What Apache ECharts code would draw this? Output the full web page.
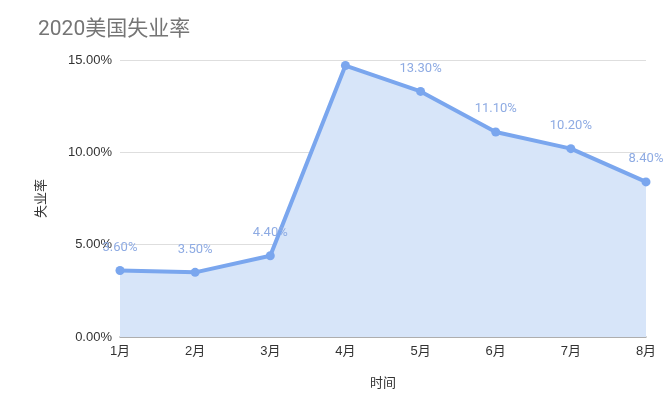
<!DOCTYPE html>
<html><head><meta charset="utf-8">
<script src="https://cdn.jsdelivr.net/npm/echarts@6/dist/echarts.min.js"></script>
<style>html,body{margin:0;padding:0;background:#fff}#c{width:668px;height:398px}</style>
</head><body><div id="c"></div>
<script>
const categories = ['1月','2月','3月','4月','5月','6月','7月','8月'];
const rates = [3.6, 3.5, 4.4, 14.7, 13.3, 11.1, 10.2, 8.4];
const hiddenLabels = [3];
const yTicks = [0, 5, 10, 15];

const chart = echarts.init(document.getElementById('c'));
const font = '"Roboto","Noto Sans","Noto Sans CJK SC",sans-serif';
const afont = '"Liberation Sans","Noto Sans CJK SC",sans-serif';
chart.setOption({
  animation: false,
  title: {
    text: '2020美国失业率', left: 33, top: 14,
    textStyle: {fontSize: 21, fontWeight: 'normal', color: '#757575', fontFamily: font}
  },
  grid: {left: 120, right: 22, top: 60, bottom: 61},
  xAxis: {
    type: 'category', data: categories, boundaryGap: false,
    name: '时间', nameLocation: 'middle', nameGap: 40,
    nameTextStyle: {fontSize: 13, color: '#333', fontFamily: afont},
    axisLine: {lineStyle: {color: '#9e9e9e', width: 1.5}},
    axisTick: {show: false},
    axisLabel: {fontSize: 13, color: '#333', fontFamily: afont, margin: 8},
    splitLine: {show: false}
  },
  yAxis: {
    type: 'value', min: yTicks[0], max: yTicks[yTicks.length-1], interval: 5,
    name: '失业率', nameLocation: 'middle', nameGap: 72, nameRotate: 90,
    nameTextStyle: {fontSize: 13, color: '#333', fontFamily: afont},
    axisLine: {show: false}, axisTick: {show: false},
    axisLabel: {fontSize: 13, color: '#333', fontFamily: afont, margin: 8,
      formatter: v => v.toFixed(2) + '%'},
    splitLine: {lineStyle: {color: '#dedede', width: 1.2}}
  },
  series: [{
    type: 'line',
    data: rates.map((v, i) => hiddenLabels.includes(i) ? {value: v, label: {show: false}} : v),
    symbol: 'circle', symbolSize: 9,
    lineStyle: {color: '#7aa6ee', width: 4},
    itemStyle: {color: '#7aa6ee'},
    areaStyle: {color: '#d7e5f9', opacity: 1},
    label: {
      show: true, position: 'top', distance: 12,
      fontSize: 13, color: '#8eabe3', fontFamily: font,
      formatter: p => p.value.toFixed(2) + '%'
    }
  }]
});
</script></body></html>
